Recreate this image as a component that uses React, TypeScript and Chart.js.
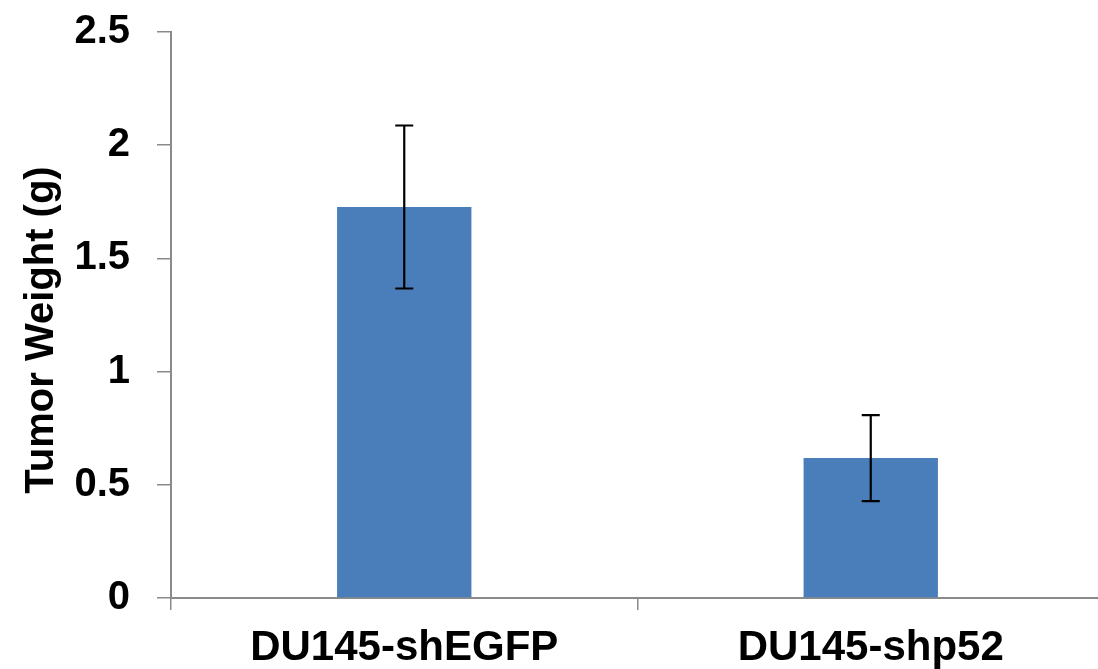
import React, { useEffect, useRef } from "react";
import { Chart, registerables } from "chart.js";

Chart.register(...registerables);

const categories = ["DU145-shEGFP", "DU145-shp52"];
const tumorWeight = [1.727, 0.618];
const tumorWeightErr = [0.36, 0.19];
const yTickValues = [0, 0.5, 1, 1.5, 2, 2.5];
const yTickLabels = ["0", "0.5", "1", "1.5", "2", "2.5"];
const yAxisTitle = "Tumor Weight (g)";

const FONT = "'Liberation Sans', Arial, Helvetica, sans-serif";
const AXIS_GRAY = "#8a8a8a";
const BAR_BLUE = "#4a7ebb";

const errorBarPlugin = {
  id: "errorBars",
  afterDatasetsDraw(chart: any) {
    const meta = chart.getDatasetMeta(0);
    const yScale = chart.scales.y;
    const ctx = chart.ctx;
    ctx.save();
    ctx.strokeStyle = "#000";
    ctx.lineWidth = 2.2;
    meta.data.forEach((el: any, i: number) => {
      const x = el.x;
      const top = yScale.getPixelForValue(tumorWeight[i] + tumorWeightErr[i]);
      const bot = yScale.getPixelForValue(tumorWeight[i] - tumorWeightErr[i]);
      const cap = 9;
      ctx.beginPath();
      ctx.moveTo(x, top);
      ctx.lineTo(x, bot);
      ctx.moveTo(x - cap, top);
      ctx.lineTo(x + cap, top);
      ctx.moveTo(x - cap, bot);
      ctx.lineTo(x + cap, bot);
      ctx.stroke();
    });
    ctx.restore();
  },
};

const yTitlePlugin = {
  id: "yTitle",
  afterDraw(chart: any) {
    const ctx = chart.ctx;
    ctx.save();
    ctx.translate(53, 330);
    ctx.rotate(-Math.PI / 2);
    ctx.font = `bold 40px ${FONT}`;
    ctx.fillStyle = "#000";
    ctx.textAlign = "center";
    ctx.textBaseline = "alphabetic";
    ctx.fillText(yAxisTitle, 0, 0);
    ctx.restore();
  },
};

export default function App() {
  const canvasRef = useRef<HTMLCanvasElement | null>(null);

  useEffect(() => {
    if (!canvasRef.current) return;
    const chart = new Chart(canvasRef.current, {
      type: "bar",
      data: {
        labels: categories,
        datasets: [
          {
            data: tumorWeight,
            backgroundColor: BAR_BLUE,
            borderWidth: 0,
            barPercentage: 0.288,
            categoryPercentage: 1,
          },
        ],
      },
      options: {
        responsive: false,
        animation: false,
        devicePixelRatio: 1,
        layout: { padding: { top: 32, left: 0, right: 0, bottom: 0 } },
        plugins: {
          legend: { display: false },
          tooltip: { enabled: false },
          title: { display: false },
        },
        scales: {
          x: {
            type: "category",
            offset: true,
            grid: {
              offset: true,
              drawOnChartArea: false,
              drawTicks: true,
              tickLength: 12,
              color: AXIS_GRAY,
              lineWidth: 1.5,
            },
            border: { display: true, color: AXIS_GRAY, width: 2 },
            ticks: {
              color: "#000",
              font: { family: FONT, size: 42, weight: "bold" },
              padding: 13,
              maxRotation: 0,
              autoSkip: false,
            },
            afterFit(scale: any) {
              scale.height = 71;
              scale.paddingLeft = 0;
              scale.paddingRight = 0;
            },
          },
          y: {
            type: "linear",
            min: 0,
            max: 2.5,
            afterBuildTicks(scale: any) {
              scale.ticks = yTickValues.map((v) => ({ value: v }));
            },
            grid: {
              drawOnChartArea: false,
              drawTicks: true,
              tickLength: 14,
              color: AXIS_GRAY,
              lineWidth: 1.5,
            },
            border: { display: true, color: AXIS_GRAY, width: 2 },
            ticks: {
              color: "#000",
              font: { family: FONT, size: 40, weight: "bold" },
              padding: 27,
              callback: (value: any) => {
                const idx = yTickValues.indexOf(Number(value));
                return idx >= 0 ? yTickLabels[idx] : "";
              },
            },
            afterFit(scale: any) {
              scale.width = 171;
              scale.paddingTop = 0;
              scale.paddingBottom = 0;
            },
          },
        },
      },
      plugins: [errorBarPlugin, yTitlePlugin],
    });
    return () => chart.destroy();
  }, []);

  return (
    <div
      style={{
        position: "fixed",
        left: 0,
        top: 0,
        width: 1098,
        height: 669,
        overflow: "hidden",
        background: "#fff",
      }}
    >
      <canvas
        ref={canvasRef}
        width={1104}
        height={669}
        style={{ width: 1104, height: 669, display: "block" }}
      />
    </div>
  );
}
